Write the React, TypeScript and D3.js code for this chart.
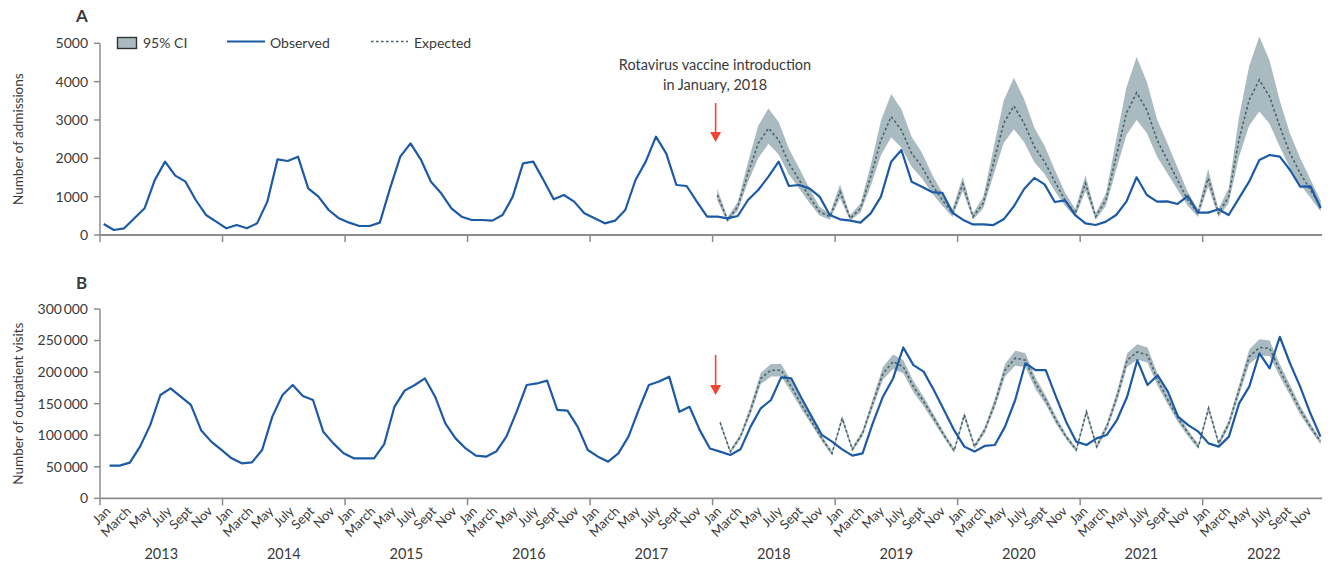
import React from "react";
import * as d3 from "d3";

const years = [2013, 2014, 2015, 2016, 2017, 2018, 2019, 2020, 2021, 2022];
const monthTickLabels = ["Jan", "March", "May", "July", "Sept", "Nov"];
const monthTickIndex = [0, 2, 4, 6, 8, 10];
const expectedStart = 60; // January 2018

const yTicksA = [0, 1000, 2000, 3000, 4000, 5000];
const yTicksB = [0, 50000, 100000, 150000, 200000, 250000, 300000];

// Panel A: admissions, monthly Jan 2013 - Dec 2022
const admissionsObserved = [
  287, 130, 174, 435, 696, 1435, 1913, 1548, 1391, 913, 522, 348,
  174, 261, 174, 304, 870, 1974, 1930, 2043, 1217, 1000, 652, 435,
  322, 235, 235, 322, 1217, 2043, 2391, 1974, 1391, 1087, 696, 478,
  391, 391, 374, 522, 1000, 1870, 1913, 1435, 930, 1043, 870, 565,
  435, 304, 374, 652, 1435, 1913, 2565, 2130, 1304, 1278, 870, 478,
  478, 435, 496, 913, 1174, 1522, 1913, 1278, 1304, 1217, 1000, 522,
  409, 374, 322, 565, 1000, 1913, 2217, 1391, 1260, 1120, 1100, 580,
  400, 275, 275, 260, 409, 750, 1200, 1490, 1320, 860, 905, 520,
  304, 261, 348, 522, 870, 1505, 1043, 870, 878, 809, 1017, 583,
  583, 670, 522, 957, 1391, 1957, 2087, 2043, 1696, 1261, 1270, 696,
];
const admissionsExpected = [
  1043, 391, 739, 1609, 2391, 2783, 2478, 1870, 1435, 1000, 609, 478,
  1130, 435, 696, 1522, 2478, 3087, 2739, 2130, 1783, 1304, 913, 565,
  1330, 478, 826, 1870, 2913, 3365, 2913, 2304, 1913, 1391, 913, 565,
  1350, 478, 913, 2043, 3174, 3713, 3261, 2478, 1957, 1435, 913, 565,
  1480, 565, 1000, 2478, 3522, 4043, 3609, 2826, 2130, 1609, 1174, 739,
];
const admissionsUpper = [
  1200, 460, 860, 1900, 2850, 3300, 2950, 2250, 1750, 1220, 740, 560,
  1320, 520, 820, 1820, 2980, 3680, 3280, 2560, 2150, 1580, 1100, 680,
  1520, 570, 990, 2250, 3500, 4100, 3550, 2800, 2330, 1700, 1110, 680,
  1560, 570, 1090, 2480, 3850, 4640, 4000, 3020, 2400, 1760, 1120, 680,
  1720, 680, 1210, 3050, 4400, 5180, 4550, 3500, 2650, 2000, 1450, 900,
];
const admissionsLower = [
  900, 330, 630, 1380, 2000, 2380, 2100, 1580, 1210, 840, 510, 400,
  960, 370, 590, 1280, 2080, 2550, 2280, 1780, 1480, 1090, 760, 470,
  1150, 400, 690, 1560, 2400, 2760, 2420, 1900, 1590, 1150, 760, 470,
  1150, 400, 760, 1700, 2600, 3000, 2660, 2040, 1610, 1180, 760, 470,
  1260, 470, 830, 2030, 2850, 3220, 2900, 2300, 1740, 1320, 970, 610,
];

// Panel B: outpatient visits
const outpatientObserved = [
  51800, 51800, 56500, 81900, 116000, 163700, 174300, 161000, 148000, 108000, 89800, 76600,
  63400, 55500, 57000, 76600, 129400, 163700, 179600, 162000, 155800, 105600, 87000, 71300,
  63400, 63400, 63400, 86000, 145000, 170600, 179600, 190000, 161000, 118800, 95000, 79000,
  67600, 66000, 74000, 97700, 137000, 179600, 182000, 186500, 140000, 139000, 113600, 76600,
  66000, 58000, 71300, 97700, 140000, 179600, 185000, 192800, 137000, 145000, 108000, 79000,
  74000, 68700, 77600, 113600, 142600, 155800, 191700, 190000, 158500, 129400, 100400, 89800,
  77600, 67600, 71300, 118800, 161000, 190000, 239000, 211000, 200700, 171700, 140000, 108000,
  81900, 74000, 83000, 84500, 113600, 155800, 214000, 203000, 203000, 161000, 121500, 89800,
  84500, 95000, 100400, 124000, 161000, 219000, 179600, 195000, 169000, 129400, 116000, 105600,
  87000, 81900, 97700, 150500, 177000, 229800, 206000, 256000, 214000, 177000, 134700, 97700,
];
const outpatientExpected = [
  120000, 74000, 97700, 140000, 190000, 203000, 203000, 177000, 148000, 121500, 95000, 71300,
  126800, 77600, 103000, 150500, 198000, 216600, 208600, 177000, 153700, 127000, 100000, 75500,
  132000, 81900, 108000, 150500, 203000, 222000, 219000, 182000, 155800, 124000, 97700, 76600,
  137000, 81900, 113600, 161000, 219000, 232000, 227000, 187500, 155800, 126800, 103000, 81900,
  142600, 87000, 118800, 171700, 224500, 239000, 237700, 203000, 171700, 140000, 113600, 89800,
];
const outpatientUpper = [
  124000, 77000, 102000, 147000, 199000, 213000, 213000, 186000, 155000, 127000, 99500, 74500,
  131500, 81000, 108000, 158000, 208000, 228000, 219000, 186000, 161000, 133000, 104500, 79000,
  137000, 85500, 113000, 158000, 213000, 234000, 230000, 191000, 163000, 130000, 102000, 80000,
  142000, 85500, 119000, 169000, 230000, 244000, 239000, 197000, 163000, 133000, 108000, 85500,
  148000, 91000, 124500, 180000, 236000, 252000, 250000, 213000, 180000, 147000, 119000, 94000,
];
const outpatientLower = [
  116000, 71000, 93500, 133000, 181000, 193000, 193000, 168000, 141000, 116000, 90500, 68000,
  122000, 74000, 98000, 143000, 188000, 205000, 198000, 168000, 146000, 121000, 95500, 72000,
  127000, 78300, 103000, 143000, 193000, 210000, 208000, 173000, 148500, 118000, 93400, 73200,
  132000, 78300, 108200, 153000, 208000, 220000, 215000, 178000, 148600, 120600, 98000, 78300,
  137200, 83000, 113100, 163400, 213000, 226000, 225400, 193000, 163400, 133000, 108200, 85600,
];

const FONT = "Lato, 'Open Sans', sans-serif";
const TEXT = "#3a3a3a";
const AXIS = "#8c8c8c";
const BLUE = "#1d5aa6";
const CI_FILL = "#a9bac0";
const EXP = "#48636a";
const RED = "#f0452e";

const W = 1331;
const H = 563;

// tick scale: month index -> x (Jan ticks)
const tickX = d3.scaleLinear().domain([0, 120]).range([100, 1325.2]);
const axisEnd = 1322;
const xA = d3.scaleLinear().domain([0, 119]).range([103.7, 1320.7]);
const xB = d3.scaleLinear().domain([0, 119]).range([109.5, 1320.5]);
const yA = d3.scaleLinear().domain([0, 5000]).range([235, 43.3]);
const yB = d3.scaleLinear().domain([0, 300000]).range([498.3, 309]);

const fmtB = (v: number) => {
  if (v === 0) return "0";
  const s = String(v);
  return s.slice(0, s.length - 3) + "\u2009" + s.slice(s.length - 3);
};

function Panel(props: {
  x: d3.ScaleLinear<number, number>;
  y: d3.ScaleLinear<number, number>;
  observed: number[];
  expected: number[];
  lower: number[];
  upper: number[];
  ticks: number[];
  fmt: (v: number) => string;
  title: string;
  arrowTop: number;
  arrowTip: number;
}) {
  const { x, y, observed, expected, lower, upper, ticks, fmt, title } = props;
  const obsLine = d3.line<number>().x((_, i) => x(i)).y((d) => y(d));
  const expLine = d3.line<number>().x((_, i) => x(i + expectedStart)).y((d) => y(d));
  const band = d3
    .area<number>()
    .x((_, i) => x(i + expectedStart))
    .y0((_, i) => y(lower[i]))
    .y1((d) => y(d));
  const y0 = y(0);
  const yTop = y(ticks[ticks.length - 1]);
  const midY = (y0 + yTop) / 2;
  const arrowX = tickX(expectedStart) + 3;
  return (
    <g>
      <path d={band(upper) || ""} fill={CI_FILL} stroke="none" />
      <path d={expLine(expected) || ""} fill="none" stroke={EXP} strokeWidth={1.6} strokeDasharray="2.6 2.4" />
      <path d={obsLine(observed) || ""} fill="none" stroke={BLUE} strokeWidth={2.2} strokeLinejoin="round" />
      {/* y axis */}
      <line x1={100} x2={100} y1={yTop} y2={y0} stroke={AXIS} strokeWidth={1.5} />
      {ticks.map((t) => (
        <g key={t}>
          <line x1={94} x2={100} y1={y(t)} y2={y(t)} stroke={AXIS} strokeWidth={1.5} />
          <text x={88} y={y(t)} dy="0.35em" textAnchor="end" fontSize={14} fill={TEXT} fontFamily={FONT}>
            {fmt(t)}
          </text>
        </g>
      ))}
      {/* x axis */}
      <line x1={100} x2={axisEnd} y1={y0} y2={y0} stroke={AXIS} strokeWidth={1.8} />
      {years.map((yr, k) => (
        <line key={yr} x1={tickX(k * 12)} x2={tickX(k * 12)} y1={y0} y2={y0 + 7} stroke={AXIS} strokeWidth={1.5} />
      ))}
      <text
        transform={`translate(18,${midY}) rotate(-90)`}
        textAnchor="middle"
        dy="0.35em"
        fontSize={13.5}
        fill={TEXT}
        fontFamily={FONT}
      >
        {title}
      </text>
      {/* arrow */}
      <line x1={arrowX} x2={arrowX} y1={props.arrowTop} y2={props.arrowTip - 9} stroke={RED} strokeWidth={1.6} />
      <path
        d={`M${arrowX - 5.5},${props.arrowTip - 10} L${arrowX + 5.5},${props.arrowTip - 10} L${arrowX},${props.arrowTip} Z`}
        fill={RED}
      />
    </g>
  );
}

export default function App() {
  const monthLabels: { label: string; i: number }[] = [];
  years.forEach((_, k) => {
    monthTickIndex.forEach((m, j) => monthLabels.push({ label: monthTickLabels[j], i: k * 12 + m }));
  });
  return (
    <svg width={W} height={H} style={{ position: "absolute", left: 0, top: 0, background: "#fff" }}>
      <text x={76} y={22} fontSize={17} fontWeight="bold" fill={TEXT} fontFamily={FONT}>A</text>
      <text x={76} y={289} fontSize={17} fontWeight="bold" fill={TEXT} fontFamily={FONT}>B</text>

      {/* legend */}
      <rect x={117.5} y={37.5} width={19} height={11} fill={CI_FILL} stroke="#333" strokeWidth={1.4} />
      <text x={143} y={47.5} fontSize={14} fill={TEXT} fontFamily={FONT}>95% CI</text>
      <line x1={227} x2={265} y1={41.5} y2={41.5} stroke={BLUE} strokeWidth={2.2} />
      <text x={270} y={47.5} fontSize={14} fill={TEXT} fontFamily={FONT}>Observed</text>
      <line x1={371} x2={408} y1={41.5} y2={41.5} stroke={EXP} strokeWidth={1.6} strokeDasharray="2.6 2.4" />
      <text x={414} y={47.5} fontSize={14} fill={TEXT} fontFamily={FONT}>Expected</text>

      <text x={715} y={70} textAnchor="middle" fontSize={14.5} fill={TEXT} fontFamily={FONT}>
        Rotavirus vaccine introduction
      </text>
      <text x={715} y={90} textAnchor="middle" fontSize={14.5} fill={TEXT} fontFamily={FONT}>
        in January, 2018
      </text>

      <Panel
        x={xA}
        y={yA}
        observed={admissionsObserved}
        expected={admissionsExpected}
        lower={admissionsLower}
        upper={admissionsUpper}
        ticks={yTicksA}
        fmt={(v) => String(v)}
        title="Number of admissions"
        arrowTop={103}
        arrowTip={142}
      />
      <Panel
        x={xB}
        y={yB}
        observed={outpatientObserved}
        expected={outpatientExpected}
        lower={outpatientLower}
        upper={outpatientUpper}
        ticks={yTicksB}
        fmt={fmtB}
        title="Number of outpatient visits"
        arrowTop={355}
        arrowTip={395}
      />

      {monthLabels.map((m) => (
        <text
          key={m.i}
          transform={`translate(${xB(m.i) + 2},${512}) rotate(-45)`}
          textAnchor="end"
          fontSize={13}
          fill={TEXT}
          fontFamily={FONT}
        >
          {m.label}
        </text>
      ))}
      {years.map((yr, k) => (
        <text
          key={yr}
          x={(tickX(k * 12) + tickX(k * 12 + 12)) / 2}
          y={559}
          textAnchor="middle"
          fontSize={14.5}
          fill={TEXT}
          fontFamily={FONT}
        >
          {yr}
        </text>
      ))}
    </svg>
  );
}
